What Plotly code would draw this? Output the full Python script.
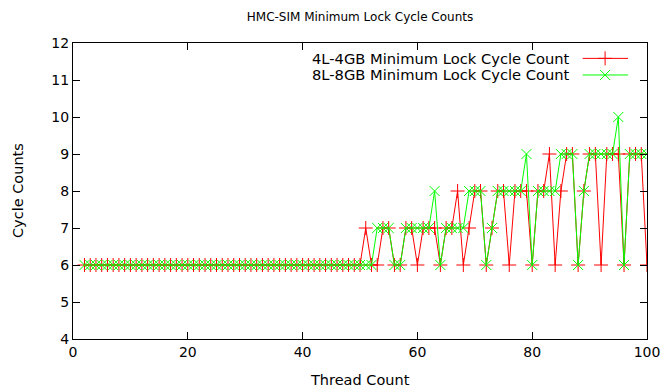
import plotly.graph_objects as go

thread_count = list(range(2, 101))

lock_4l_4gb = [
    6, 6, 6, 6, 6, 6, 6, 6, 6, 6,   # 2-11
    6, 6, 6, 6, 6, 6, 6, 6, 6, 6,   # 12-21
    6, 6, 6, 6, 6, 6, 6, 6, 6, 6,   # 22-31
    6, 6, 6, 6, 6, 6, 6, 6, 6, 6,   # 32-41
    6, 6, 6, 6, 6, 6, 6, 6, 6,      # 42-50
    7, 6, 6, 7, 7, 6, 6, 7, 7, 6,   # 51-60
    7, 7, 7, 6, 7, 7, 8, 6, 7, 8,   # 61-70
    8, 6, 7, 8, 8, 6, 8, 8, 8, 6,   # 71-80
    8, 8, 9, 6, 8, 9, 9, 6, 8, 9,   # 81-90
    9, 6, 9, 9, 9, 6, 9, 9, 9, 6,   # 91-100
]

lock_8l_8gb = [
    6, 6, 6, 6, 6, 6, 6, 6, 6, 6,   # 2-11
    6, 6, 6, 6, 6, 6, 6, 6, 6, 6,   # 12-21
    6, 6, 6, 6, 6, 6, 6, 6, 6, 6,   # 22-31
    6, 6, 6, 6, 6, 6, 6, 6, 6, 6,   # 32-41
    6, 6, 6, 6, 6, 6, 6, 6, 6,      # 42-50
    6, 6, 7, 7, 7, 6, 6, 7, 7, 7,   # 51-60
    7, 7, 8, 6, 7, 7, 7, 7, 8, 8,   # 61-70
    8, 6, 7, 8, 8, 8, 8, 8, 9, 6,   # 71-80
    8, 8, 8, 8, 9, 9, 9, 6, 8, 9,   # 81-90
    9, 9, 9, 9, 10, 6, 9, 9, 9, 9,  # 91-100
]

series_names = ["4L-4GB Minimum Lock Cycle Count", "8L-8GB Minimum Lock Cycle Count"]
x_ticks = [0, 20, 40, 60, 80, 100]
y_ticks = [4, 5, 6, 7, 8, 9, 10, 11, 12]

RED = "#ff0000"
GREEN = "#00ff00"
FONT = "DejaVu Sans"
W, H = 663, 391
ML, MR, MT, MB = 73, 16, 43, 52

fig = go.Figure()
fig.add_trace(go.Scatter(
    x=thread_count, y=lock_4l_4gb, mode="lines+markers", name=series_names[0],
    line=dict(color=RED, width=1),
    marker=dict(symbol="cross-thin", size=10, line=dict(color=RED, width=1)),
    showlegend=False,
))
fig.add_trace(go.Scatter(
    x=thread_count, y=lock_8l_8gb, mode="lines+markers", name=series_names[1],
    line=dict(color=GREEN, width=1),
    marker=dict(symbol="x-thin", size=10, line=dict(color=GREEN, width=1)),
    showlegend=False,
))

# gnuplot-style legend: text followed by a line sample (drawn on a hidden unit overlay axis)
leg_rows = [0.948, 0.892]
leg_x0, leg_xm, leg_x1, leg_text_x = 0.888, 0.927, 0.967, 0.869
for name, color, sym, yy in zip(series_names, [RED, GREEN], ["cross-thin", "x-thin"], leg_rows):
    fig.add_trace(go.Scatter(
        x=[leg_x0, leg_x1], y=[yy, yy], mode="lines", xaxis="x2", yaxis="y2",
        line=dict(color=color, width=1), showlegend=False, hoverinfo="skip",
    ))
    fig.add_trace(go.Scatter(
        x=[leg_xm], y=[yy], mode="markers", xaxis="x2", yaxis="y2",
        marker=dict(symbol=sym, size=10, line=dict(color=color, width=1), color=color),
        showlegend=False, hoverinfo="skip",
    ))
    fig.add_annotation(
        x=leg_text_x, y=yy, xref="paper", yref="paper", text=name, showarrow=False,
        xanchor="right", yanchor="middle", font=dict(family=FONT, size=14.7, color="black"),
    )

# axis titles
plot_h = H - MT - MB
plot_w = W - ML - MR
fig.add_annotation(
    x=0.5, y=-(380 - (H - MB)) / plot_h, xref="paper", yref="paper", text="Thread Count",
    showarrow=False, xanchor="center", yanchor="middle",
    font=dict(family=FONT, size=14.5, color="black"),
)
fig.add_annotation(
    x=-(ML - 18) / plot_w, y=0.5, xref="paper", yref="paper", text="Cycle Counts",
    showarrow=False, xanchor="center", yanchor="middle", textangle=-90,
    font=dict(family=FONT, size=14.5, color="black"),
)

axis_common = dict(
    showgrid=False, zeroline=False, showline=True, linecolor="black", linewidth=1,
    mirror="ticks", ticks="inside", ticklen=7, tickcolor="black", tickwidth=1,
    tickfont=dict(family=FONT, size=14, color="black"), automargin=False,
)

fig.update_layout(
    width=W, height=H,
    margin=dict(l=ML, r=MR, t=MT, b=MB, autoexpand=False),
    paper_bgcolor="white", plot_bgcolor="white",
    title=dict(text="HMC-SIM Minimum Lock Cycle Counts", x=0.543, xanchor="center",
               y=1 - 17 / H, yanchor="middle", font=dict(family=FONT, size=12, color="black")),
    xaxis=dict(range=[0, 100], tickvals=x_ticks, **axis_common),
    yaxis=dict(range=[4, 12], tickvals=y_ticks, **axis_common),
    xaxis2=dict(overlaying="x", range=[0, 1], visible=False),
    yaxis2=dict(overlaying="y", range=[0, 1], visible=False),
    showlegend=False,
    hovermode=False,
)

fig.write_html(
    "out.html",
    config={"displayModeBar": False, "staticPlot": True},
    post_script="document.body.style.margin='0';document.body.style.overflow='hidden';",
)
